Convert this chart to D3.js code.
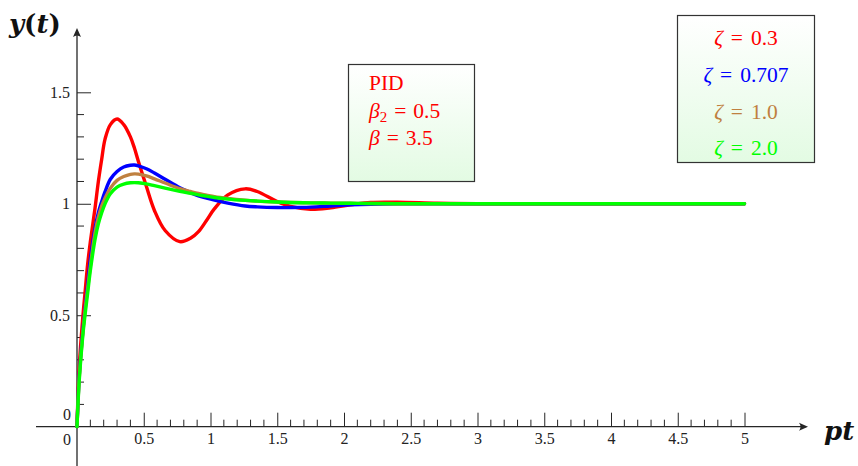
<!DOCTYPE html>
<html><head><meta charset="utf-8">
<script src="https://cdn.jsdelivr.net/npm/d3@7"></script>
<style>
html,body{margin:0;padding:0;background:#fff;}
svg{display:block;font-family:"Liberation Serif","DejaVu Serif",serif;}
</style></head>
<body><svg id="chart" width="858" height="466"></svg>
<script>
// ---- data ----
const tValues = [0, 0.017, 0.042, 0.06, 0.08, 0.1, 0.135, 0.16, 0.185, 0.21, 0.25, 0.3, 0.35, 0.4, 0.43, 0.46, 0.52, 0.58, 0.66, 0.77, 0.85, 0.91, 0.97, 1.03, 1.13, 1.26, 1.35, 1.5, 1.6, 1.75, 1.9, 2.05, 2.2, 2.4, 2.7, 3.0, 3.5, 4.0, 4.5, 5.0];
const zeta03  = [0, 0.27, 0.48, 0.60, 0.73, 0.83, 0.98, 1.10, 1.20, 1.29, 1.355, 1.38, 1.355, 1.30, 1.25, 1.19, 1.077, 0.97, 0.88, 0.83, 0.845, 0.875, 0.925, 0.978, 1.04, 1.067, 1.055, 1.01, 0.988, 0.975, 0.982, 0.995, 1.006, 1.007, 1.002, 1.0, 1.0, 1.0, 1.0, 1.0];
const zeta0707= [0, 0.23, 0.42, 0.53, 0.64, 0.75, 0.89, 0.96, 1.01, 1.054, 1.11, 1.145, 1.165, 1.173, 1.174, 1.17, 1.157, 1.138, 1.11, 1.072, 1.05, 1.035, 1.025, 1.016, 1.003, 0.99, 0.986, 0.983, 0.983, 0.985, 0.99, 0.995, 0.998, 1.0, 1.0, 1.0, 1.0, 1.0, 1.0, 1.0];
const zeta10  = [0, 0.22, 0.41, 0.52, 0.62, 0.72, 0.87, 0.94, 0.99, 1.025, 1.07, 1.105, 1.122, 1.132, 1.134, 1.133, 1.125, 1.112, 1.093, 1.068, 1.055, 1.046, 1.039, 1.032, 1.024, 1.016, 1.012, 1.008, 1.006, 1.004, 1.003, 1.002, 1.001, 1.0, 1.0, 1.0, 1.0, 1.0, 1.0, 1.0];
const zeta20  = [0, 0.21, 0.40, 0.50, 0.60, 0.70, 0.84, 0.91, 0.96, 1.0, 1.045, 1.075, 1.088, 1.094, 1.095, 1.094, 1.089, 1.081, 1.07, 1.056, 1.047, 1.04, 1.034, 1.028, 1.021, 1.015, 1.012, 1.008, 1.006, 1.004, 1.003, 1.002, 1.001, 1.0, 1.0, 1.0, 1.0, 1.0, 1.0, 1.0];
const seriesNames = ["0.3", "0.707", "1.0", "2.0"];
const seriesColors = ["#ff0000", "#0000ff", "#bf8040", "#00ff00"];
const seriesValues = [zeta03, zeta0707, zeta10, zeta20];
const xTickLabels = ["0.5", "1", "1.5", "2", "2.5", "3", "3.5", "4", "4.5", "5"];
const yTickLabels = ["0.5", "1", "1.5"];

const svg = d3.select("#chart");
const x = d3.scaleLinear().domain([0, 5]).range([77, 744.5]);
const y = d3.scaleLinear().domain([0, 1.5]).range([426.7, 92.3]);
const axisColor = "#262626";
const tickFont = 16;

// gradient for boxes
const defs = svg.append("defs");
const grad = defs.append("linearGradient").attr("id", "boxgrad").attr("x1", 0).attr("y1", 0).attr("x2", 0).attr("y2", 1);
grad.append("stop").attr("offset", "0%").attr("stop-color", "#ffffff");
grad.append("stop").attr("offset", "100%").attr("stop-color", "#e3fbe3");

// minor ticks
const xMinor = d3.range(1, 50).map(i => i / 10).filter(v => Math.abs(v * 2 - Math.round(v * 2)) > 1e-6);
const yMinor = d3.range(1, 15).map(i => i / 10).filter(v => Math.abs(v * 2 - Math.round(v * 2)) > 1e-6);
svg.append("g").selectAll("line").data(xMinor).join("line")
  .attr("x1", d => x(d)).attr("x2", d => x(d)).attr("y1", y(0)).attr("y2", y(0) - 7)
  .attr("stroke", axisColor).attr("stroke-width", 1);
svg.append("g").selectAll("line").data(yMinor).join("line")
  .attr("y1", d => y(d)).attr("y2", d => y(d)).attr("x1", x(0)).attr("x2", x(0) + 7)
  .attr("stroke", axisColor).attr("stroke-width", 1);

// major ticks via d3 axes
const xAxis = d3.axisBottom(x).tickValues(xTickLabels.map(Number)).tickSize(-14).tickPadding(6)
  .tickFormat((d, i) => xTickLabels[i]);
const gx = svg.append("g").attr("transform", `translate(0,${y(0)})`).call(xAxis);
gx.select(".domain").remove();
gx.selectAll(".tick line").attr("stroke", axisColor).attr("stroke-width", 1);
gx.selectAll(".tick text").attr("font-family", "Liberation Serif, serif").attr("font-size", tickFont).attr("fill", "#222").attr("dy", "0.72em");

const yAxis = d3.axisLeft(y).tickValues(yTickLabels.map(Number)).tickSize(-14).tickPadding(7)
  .tickFormat((d, i) => yTickLabels[i]);
const gy = svg.append("g").attr("transform", `translate(${x(0)},0)`).call(yAxis);
gy.select(".domain").remove();
gy.selectAll(".tick line").attr("stroke", axisColor).attr("stroke-width", 1);
gy.selectAll(".tick text").attr("font-family", "Liberation Serif, serif").attr("font-size", tickFont).attr("fill", "#222");

// zero labels
svg.append("text").attr("x", x(0) - 10).attr("y", y(0) + 18).attr("text-anchor", "middle")
  .attr("font-size", tickFont).attr("fill", "#222").text("0");
svg.append("text").attr("x", x(0) - 10).attr("y", y(0) - 7).attr("text-anchor", "middle")
  .attr("font-size", tickFont).attr("fill", "#222").text("0");

// axis lines with arrows
svg.append("line").attr("x1", 36).attr("x2", 806).attr("y1", y(0)).attr("y2", y(0))
  .attr("stroke", axisColor).attr("stroke-width", 1.3);
svg.append("line").attr("x1", x(0)).attr("x2", x(0)).attr("y1", 466).attr("y2", 31)
  .attr("stroke", axisColor).attr("stroke-width", 1.3);
const ax = 808, ay = y(0);
svg.append("path").attr("d", `M${ax},${ay} L${ax - 9},${ay - 4} Q${ax - 6},${ay} ${ax - 9},${ay + 4} Z`).attr("fill", axisColor);
const bx = x(0), by = 28;
svg.append("path").attr("d", `M${bx},${by} L${bx - 4},${by + 9} Q${bx},${by + 6} ${bx + 4},${by + 9} Z`).attr("fill", axisColor);

// axis titles
const yt = svg.append("text").attr("x", 9).attr("y", 33).attr("font-family", "DejaVu Serif, serif")
  .attr("font-size", 26).attr("font-weight", "bold").attr("fill", "#111");
yt.append("tspan").attr("font-style", "italic").text("y");
yt.append("tspan").text("(");
yt.append("tspan").attr("font-style", "italic").text("t");
yt.append("tspan").text(")");
svg.append("text").attr("x", 824).attr("y", 440).attr("font-family", "DejaVu Serif, serif").attr("font-size", 26).attr("font-weight", "bold")
  .attr("font-style", "italic").attr("fill", "#111").text("pt");

// curves
const line = d3.line().x(d => x(d[0])).y(d => y(d[1])).curve(d3.curveCatmullRom.alpha(0.5));
seriesValues.forEach((vals, i) => {
  svg.append("path").datum(tValues.map((t, j) => [t, vals[j]]))
    .attr("d", line).attr("fill", "none").attr("stroke", seriesColors[i])
    .attr("stroke-width", 3.4).attr("stroke-linejoin", "round").attr("stroke-linecap", "round");
});

const boxFont = 21.5;
// PID box
svg.append("rect").attr("x", 348.5).attr("y", 64.5).attr("width", 126).attr("height", 117)
  .attr("fill", "url(#boxgrad)").attr("stroke", "#333").attr("stroke-width", 1.2);
const pidText = svg.append("g").attr("fill", "#ff0000").attr("font-size", boxFont);
pidText.append("text").attr("x", 369).attr("y", 90).text("PID");
const b2 = pidText.append("text").attr("x", 369).attr("y", 118);
b2.append("tspan").attr("font-style", "italic").text("β");
b2.append("tspan").attr("font-size", 15).attr("dy", 4).text("2");
b2.append("tspan").attr("dy", -4).attr("dx", 7).text("=");
b2.append("tspan").attr("dx", 7).text("0.5");
const b1 = pidText.append("text").attr("x", 369).attr("y", 145);
b1.append("tspan").attr("font-style", "italic").text("β");
b1.append("tspan").attr("dx", 7).text("=");
b1.append("tspan").attr("dx", 7).text("3.5");

// zeta legend box
svg.append("rect").attr("x", 677.5).attr("y", 15.5).attr("width", 137).attr("height", 147)
  .attr("fill", "url(#boxgrad)").attr("stroke", "#333").attr("stroke-width", 1.2);
const legY = [45, 81.7, 118.5, 155.3];
seriesNames.forEach((n, i) => {
  const t = svg.append("text").attr("x", 746).attr("y", legY[i]).attr("text-anchor", "middle")
    .attr("font-size", boxFont).attr("fill", seriesColors[i]);
  t.append("tspan").attr("font-style", "italic").text("ζ");
  t.append("tspan").attr("dx", 8).text("=");
  t.append("tspan").attr("dx", 8).text(n);
});
</script></body></html>
